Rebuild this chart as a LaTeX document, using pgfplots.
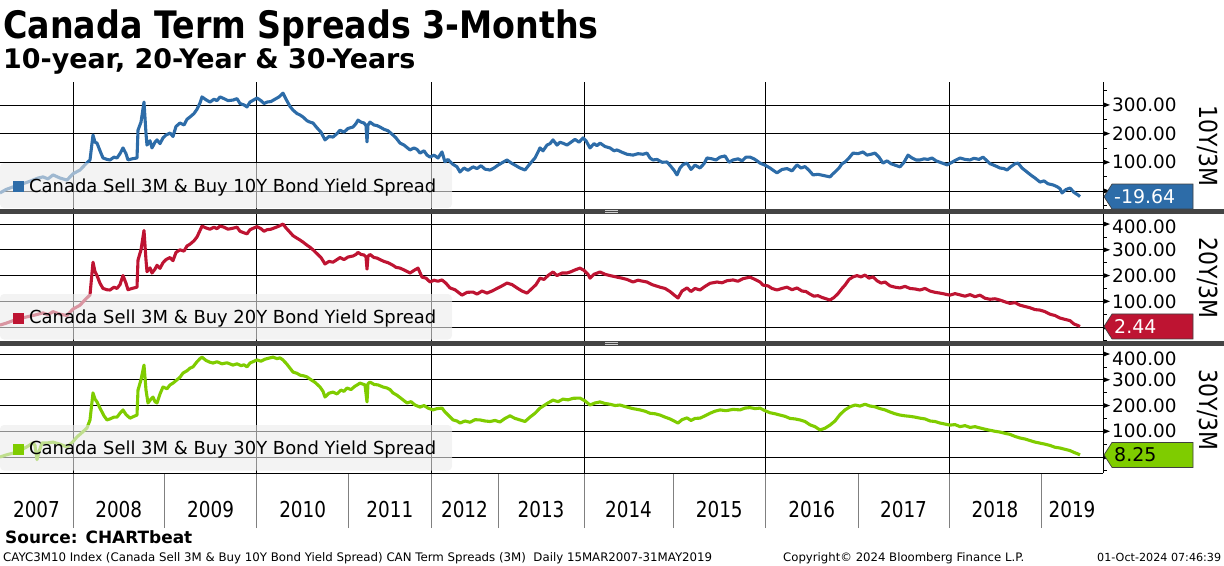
\documentclass[border=0pt]{standalone}
\usepackage{pgfplots}
\pgfplotsset{compat=1.18}
\usepackage{fontspec}
\setmainfont{DejaVu Sans}

\definecolor{cblue}{HTML}{2D6CA8}
\definecolor{cred}{HTML}{BE1432}
\definecolor{cgreen}{HTML}{7FCC00}
\definecolor{sepgray}{HTML}{444444}
\definecolor{leggray}{HTML}{EBEBEB}

\pgfplotsset{
  panel/.style={
    scale only axis, width=1103bp, xmin=0, xmax=1103, clip=false,
    axis line style={draw=none},
    xtick={73,256.6,431,584,765.5,949}, xticklabels={},
    yticklabel pos=right,
    grid=major, major grid style={black, line width=0.8bp},
    major tick length=0pt,
    yticklabel style={font=\fontsize{18.5}{18.5}\selectfont, anchor=west, inner sep=0pt, xshift=9bp,
      /pgf/number format/fixed, /pgf/number format/fixed zerofill,
      /pgf/number format/precision=2, /pgf/number format/assume math mode=true},
  },
  series/.style={#1, line width=3.1bp, line join=round},
}

% right axis line, arrow ticks and minor ticks
\newcommand\ydecor[2]{%
  \draw[line width=1bp] (rel axis cs:1,0) -- (rel axis cs:1,1);
  \pgfplotsinvokeforeach{#1}{\fill ([yshift=2.7bp]axis cs:1103,##1) -- ([xshift=7bp]axis cs:1103,##1) -- ([yshift=-2.7bp]axis cs:1103,##1) -- cycle;}%
  \pgfplotsinvokeforeach{#2}{\draw[line width=0.7bp] (axis cs:1103,##1) -- ([xshift=3.5bp]axis cs:1103,##1);}%
}

% value tag pointing at the last value
\newcommand\valtag[4]{%
  \draw[fill=#2, draw=black!75, line width=0.7bp] ([xshift=1bp]#1) -- ([xshift=9bp,yshift=12.5bp]#1) -- ([xshift=90bp,yshift=12.5bp]#1)
    -- ([xshift=90bp,yshift=-12.5bp]#1) -- ([xshift=9bp,yshift=-12.5bp]#1) -- cycle;
  \node[anchor=west, inner sep=0pt, text=#3, font=\fontsize{19}{19}\selectfont] at ([xshift=11bp]#1) {#4};
}

% legend box
\newcommand\legbox[4]{% top, bottom, colour, text
  \fill[leggray, fill opacity=0.6, rounded corners=4bp] (0bp,-#1bp) rectangle (452bp,-#2bp);
  \pgfmathsetmacro\lb{#2-16}
  \fill[#3] (13bp,-\lb bp) rectangle (24bp,-\lb bp+11bp);
  \node[anchor=base west, inner sep=0pt, font=\fontsize{18}{18}\selectfont] at (29bp,-\lb bp) {#4};
}

\begin{document}
\begin{tikzpicture}
\path[use as bounding box] (0,0) rectangle (1224bp,-566bp);

% ---------------- panel 1: 10Y/3M
\begin{axis}[panel, at={(0bp,-82bp)}, anchor=north west, height=127bp,
  ymin=-63, ymax=380, ytick={100,200,300},
  extra y ticks={0}, extra y tick labels={}, extra y tick style={grid=major}]
\addplot[series=cblue] coordinates {
(0,-7) (6,5) (13,14) (20,22) (27,30) (33,38) (38,45) (43,49) (48,42) (53,56) (60,45) (67,38)
(73,60) (80,73) (86,95) (90,108) (93,195) (95,170) (97,167) (100,140) (103,115) (107,110)
(110,108) (114,118) (117,115) (120,130) (123,150) (126,130) (128,108) (132,112) (137,115)
(138,212) (141,240) (144,310) (146,200) (147,160) (150,175) (152,150) (155,170) (157,178)
(160,165) (163,185) (166,195) (170,202) (173,190) (176,225) (180,237) (184,230) (187,250)
(190,258) (194,270) (197,285) (200,307) (202,328) (206,318) (210,310) (214,320) (217,315)
(220,328) (224,322) (228,315) (233,317) (237,322) (240,305) (244,300) (247,293) (250,310)
(254,318) (257,324) (261,315) (264,305) (267,310) (271,312) (275,320) (279,328) (283,341)
(286,320) (290,295) (293,282) (297,270) (300,265) (303,258) (307,245) (310,240) (313,237)
(317,220) (321,205) (325,178) (329,190) (333,188) (337,200) (340,212) (344,205) (348,218)
(353,223) (356,235) (358,247) (361,240) (364,237) (366,228) (367,171) (368,230) (370,240)
(374,230) (377,228) (380,223) (384,215) (388,210) (393,195) (396,185) (400,167) (404,160)
(410,143) (414,150) (417,145) (420,132) (424,140) (427,125) (430,118) (434,125) (438,115)
(442,136) (445,101) (448,110) (452,95) (457,84) (460,66) (464,80) (468,72) (473,84) (477,78)
(481,88) (485,76) (490,73) (494,80) (498,90) (503,100) (507,108) (511,98) (515,90) (520,80)
(525,73) (530,95) (535,115) (540,150) (543,140) (547,160) (550,165) (553,178) (557,160)
(560,170) (564,165) (567,160) (571,170) (575,180) (579,170) (583,185) (586,175) (590,150)
(594,165) (597,158) (600,167) (605,155) (610,150) (614,140) (617,143) (622,135) (627,128)
(633,125) (638,130) (643,128) (647,132) (650,115) (653,108) (657,110) (662,100) (667,101)
(671,85) (674,72) (677,56) (680,80) (683,92) (687,97) (691,75) (695,90) (700,80) (704,95)
(707,115) (712,112) (716,108) (720,118) (725,122) (729,100) (733,108) (738,112) (742,105)
(746,118) (750,118) (754,112) (757,105) (760,97) (765,90) (770,80) (774,70) (777,63) (782,75)
(787,78) (792,70) (797,91) (801,80) (805,85) (809,72) (813,56) (818,58) (822,55) (826,52)
(830,49) (833,60) (835,66) (839,80) (842,95) (845,101) (849,115) (853,132) (858,130) (863,136)
(867,125) (871,128) (875,132) (879,118) (883,97) (887,105) (891,95) (895,90) (900,84) (904,100)
(908,125) (912,115) (916,108) (920,108) (924,112) (928,110) (932,115) (936,105) (940,100)
(944,95) (947,91) (951,98) (956,108) (960,115) (965,110) (970,108) (974,114) (979,110)
(983,118) (987,105) (990,95) (993,91) (997,85) (1000,80) (1004,78) (1007,73) (1011,85)
(1015,95) (1018,97) (1022,80) (1027,66) (1031,55) (1035,45) (1040,31) (1044,35) (1048,25)
(1053,21) (1057,15) (1060,8) (1062,-7) (1066,5) (1070,10) (1074,-5) (1078,-14) (1080,-19.64)
};
\ydecor{300,200,100,0}{350,250,150,50,-50}
\coordinate (t1) at (axis cs:1103,-19.64);
\end{axis}

% ---------------- panel 2: 20Y/3M
\begin{axis}[panel, at={(0bp,-213.5bp)}, anchor=north west, height=127.5bp,
  ymin=-54, ymax=441, ytick={100,200,300},
  extra y ticks={0,400}, extra y tick labels={,400.00},
  extra y tick style={grid=major, yticklabel style={yshift=-3bp}}]
\addplot[series=cred] coordinates {
(0,8) (6,15) (13,25) (20,33) (27,40) (33,45) (38,50) (43,55) (48,48) (53,60) (60,50) (67,45)
(73,70) (80,85) (86,110) (90,125) (93,252) (95,215) (97,200) (100,170) (103,150) (107,145)
(110,144) (114,155) (117,150) (120,165) (123,200) (126,170) (128,145) (132,150) (137,155)
(138,260) (141,300) (144,375) (146,260) (147,215) (150,230) (152,210) (155,225) (157,240)
(160,228) (163,250) (166,262) (170,270) (173,258) (176,290) (180,300) (184,295) (187,315)
(190,322) (194,335) (197,350) (200,375) (202,392) (206,385) (210,380) (214,388) (217,382)
(220,392) (224,388) (228,380) (233,384) (237,388) (240,372) (244,366) (247,362) (250,378)
(254,385) (257,390) (261,382) (264,372) (267,378) (271,380) (275,386) (279,392) (283,400)
(286,385) (290,368) (293,355) (297,345) (300,338) (303,330) (307,318) (310,310) (313,300)
(317,285) (321,270) (325,245) (329,255) (333,252) (337,262) (340,270) (344,262) (348,272)
(353,276) (356,282) (358,290) (361,282) (364,280) (366,272) (367,225) (368,275) (370,282)
(374,270) (377,268) (380,262) (384,255) (388,250) (393,240) (396,232) (400,229) (404,222)
(410,210) (414,220) (418,229) (422,194) (426,190) (430,175) (434,182) (438,178) (442,183)
(446,170) (450,152) (455,145) (462,124) (467,135) (473,136) (477,128) (482,140) (487,132)
(492,140) (497,150) (502,160) (507,171) (512,165) (517,152) (522,140) (527,132) (532,150)
(536,165) (540,190) (544,185) (548,200) (553,214) (557,200) (562,210) (567,210) (571,215)
(575,222) (580,229) (584,220) (588,205) (590,190) (594,205) (600,214) (605,205) (610,200)
(617,194) (622,190) (627,185) (633,175) (638,182) (643,178) (647,175) (652,165) (656,160)
(660,155) (665,150) (670,138) (674,125) (678,113) (682,140) (687,152) (691,138) (695,150)
(700,144) (705,158) (710,170) (717,175) (722,172) (727,180) (733,183) (738,178) (743,188)
(750,194) (755,185) (760,175) (763,163) (768,160) (772,150) (777,144) (782,150) (787,155)
(792,145) (797,152) (802,140) (806,138) (810,128) (814,120) (818,122) (822,115) (826,110)
(830,105) (834,115) (838,130) (842,150) (845,163) (849,185) (853,195) (857,200) (861,195)
(865,202) (869,190) (873,195) (877,180) (881,171) (885,175) (890,160) (895,155) (900,152)
(905,158) (910,150) (915,148) (920,144) (925,150) (930,140) (935,135) (940,132) (945,128)
(950,124) (955,130) (960,125) (965,120) (970,126) (975,118) (980,124) (985,112) (990,108)
(995,110) (1000,105) (1005,98) (1010,92) (1015,95) (1020,85) (1025,80) (1030,75) (1035,68)
(1040,66) (1045,60) (1050,50) (1055,45) (1060,35) (1065,30) (1070,25) (1074,12) (1078,6)
(1080,2.44)
};
\ydecor{400,300,200,100,0}{350,250,150,50,-50}
\coordinate (t2) at (axis cs:1103,2.44);
\end{axis}

% ---------------- panel 3: 30Y/3M
\begin{axis}[panel, at={(0bp,-345bp)}, anchor=north west, height=128bp,
  ymin=-62, ymax=435, ytick={100,200,300},
  extra y ticks={0,400}, extra y tick labels={,400.00},
  extra y tick style={grid=major, yticklabel style={yshift=-5bp}}]
\addplot[series=cgreen] coordinates {
(0,0) (6,8) (13,15) (20,25) (27,40) (33,55) (35,45) (37,-10) (39,20) (42,55) (48,55) (53,58)
(60,50) (67,39) (73,60) (77,78) (82,95) (87,113) (90,144) (93,249) (95,225) (97,214) (100,190)
(104,160) (107,144) (110,148) (114,155) (117,155) (120,170) (123,183) (126,165) (130,151)
(134,158) (137,163) (138,260) (141,300) (144,357) (146,260) (148,210) (151,225) (153,233)
(155,215) (157,210) (160,245) (163,272) (167,265) (170,280) (173,287) (177,300) (180,310)
(183,326) (187,335) (190,345) (193,350) (197,370) (200,382) (202,388) (206,375) (210,368)
(213,365) (217,370) (222,362) (227,366) (233,357) (237,362) (241,355) (244,358) (247,350)
(250,365) (254,372) (257,377) (261,372) (265,380) (270,385) (273,388) (277,382) (280,385)
(283,377) (287,360) (290,345) (293,330) (297,325) (300,318) (304,315) (307,311) (311,300)
(315,290) (320,272) (323,255) (325,233) (329,248) (333,252) (337,245) (341,260) (344,255)
(347,268) (351,262) (355,275) (358,282) (360,287) (363,283) (365,280) (367,214) (368,285)
(370,291) (374,282) (378,280) (383,272) (387,268) (390,262) (393,249) (397,240) (401,228)
(407,210) (411,215) (415,202) (420,194) (424,200) (428,190) (433,183) (437,188) (442,190)
(445,175) (449,160) (453,144) (457,140) (460,132) (465,140) (470,135) (475,145) (480,144)
(485,140) (490,138) (495,142) (500,136) (505,150) (510,160) (515,150) (520,144) (525,138)
(530,155) (535,170) (540,190) (544,200) (548,210) (553,221) (558,215) (563,225) (568,222)
(573,228) (580,229) (585,218) (590,202) (595,210) (600,214) (605,208) (610,205) (615,200)
(620,202) (626,195) (633,188) (640,183) (645,178) (650,170) (655,168) (660,163) (665,155)
(670,148) (674,140) (678,132) (682,145) (687,152) (691,142) (695,150) (700,151) (705,160)
(710,170) (715,178) (720,183) (726,180) (733,185) (740,183) (745,190) (750,192) (755,188)
(760,190) (765,180) (770,172) (775,168) (780,163) (785,158) (790,150) (795,148) (800,144)
(805,138) (810,125) (815,118) (820,105) (825,112) (830,124) (835,140) (840,165) (845,183)
(850,195) (855,202) (860,198) (865,205) (870,198) (875,195) (880,188) (885,183) (890,175)
(895,168) (900,163) (905,160) (910,158) (915,155) (920,151) (925,148) (930,140) (935,138)
(940,132) (945,128) (950,124) (955,126) (960,118) (965,122) (970,115) (975,118) (980,113)
(985,108) (990,104) (995,100) (1000,97) (1005,92) (1010,88) (1015,80) (1020,74) (1025,70)
(1030,64) (1035,58) (1040,54) (1045,50) (1050,45) (1055,38) (1060,35) (1065,30) (1070,25)
(1074,18) (1078,12) (1080,8.25)
};
\ydecor{400,300,200,100,0}{350,250,150,50,-50}
\coordinate (t3) at (axis cs:1103,8.25);
\end{axis}

% ---------------- year axis
\begin{axis}[at={(0bp,-473bp)}, anchor=north west, scale only axis, width=1103bp, height=55bp,
  xmin=0, xmax=1103, ymin=0, ymax=1, axis line style={draw=none}, ytick=\empty,
  xtick={73,164.5,256.6,348.8,431,498,584,673,765.5,858,949,1041}, xticklabels={},
  xmajorgrids, major grid style={gray, line width=0.8bp}, major tick length=0pt,
  extra x ticks={36.5,118.75,210.55,302.7,389.9,464.5,541,628.5,719.25,811.75,903.5,995,1072},
  extra x tick labels={2007,2008,2009,2010,2011,2012,2013,2014,2015,2016,2017,2018,2019},
  extra x tick style={grid=none, xticklabel style={font=\fontsize{22}{22}\selectfont, anchor=center, yshift=18bp, xscale=0.84}}]
\end{axis}

% panel bottoms and separators
\draw[line width=1bp] (0bp,-473bp) -- (1103bp,-473bp);
\fill[sepgray] (0bp,-208.5bp) rectangle (1224bp,-213.5bp);
\fill[sepgray] (0bp,-340.5bp) rectangle (1224bp,-345.5bp);
\foreach \s in {210.2,212} {\draw[gray!40, line width=0.6bp] (605bp,-\s bp) -- (618bp,-\s bp);}
\foreach \s in {342.2,344} {\draw[gray!40, line width=0.6bp] (605bp,-\s bp) -- (618bp,-\s bp);}

% legends
\legbox{163}{208}{cblue}{Canada Sell 3M \& Buy 10Y Bond Yield Spread}
\legbox{294}{339.5}{cred}{Canada Sell 3M \& Buy 20Y Bond Yield Spread}
\legbox{425}{470.5}{cgreen}{Canada Sell 3M \& Buy 30Y Bond Yield Spread}

% value tags
\valtag{t1}{cblue}{white}{-19.64}
\valtag{t2}{cred}{white}{2.44}
\valtag{t3}{cgreen}{black}{8.25}

% right-hand panel names
\node[rotate=-90, inner sep=0pt, font=\fontsize{25}{25}\selectfont] at (1208bp,-146bp) {\scalebox{0.88}[1]{10Y/3M}};
\node[rotate=-90, inner sep=0pt, font=\fontsize{25}{25}\selectfont] at (1208bp,-278bp) {\scalebox{0.88}[1]{20Y/3M}};
\node[rotate=-90, inner sep=0pt, font=\fontsize{25}{25}\selectfont] at (1208bp,-410bp) {\scalebox{0.88}[1]{30Y/3M}};

% titles
\node[anchor=base west, inner sep=0pt] at (3bp,-38bp) {\fontsize{38}{38}\selectfont\bfseries\scalebox{0.88}[1]{Canada Term Spreads 3-Months}};
\node[anchor=base west, inner sep=0pt] at (3bp,-68bp) {\fontsize{27}{27}\selectfont\bfseries 10-year, 20-Year \& 30-Years};

% footer
\node[anchor=base west, inner sep=0pt] at (5bp,-543bp) {\fontsize{17}{17}\selectfont\bfseries Source: CHARTbeat};
\node[anchor=base west, inner sep=0pt] at (3bp,-561bp) {\resizebox{709bp}{!}{\fontsize{11}{11}\selectfont CAYC3M10 Index (Canada Sell 3M \& Buy 10Y Bond Yield Spread) CAN Term Spreads (3M)\ \ Daily 15MAR2007-31MAY2019}};
\node[anchor=base west, inner sep=0pt] at (783bp,-561bp) {\resizebox{241bp}{!}{\fontsize{11}{11}\selectfont Copyright© 2024 Bloomberg Finance L.P.}};
\node[anchor=base west, inner sep=0pt] at (1097bp,-561bp) {\resizebox{124bp}{!}{\fontsize{11}{11}\selectfont 01-Oct-2024 07:46:39}};
\end{tikzpicture}
\end{document}
